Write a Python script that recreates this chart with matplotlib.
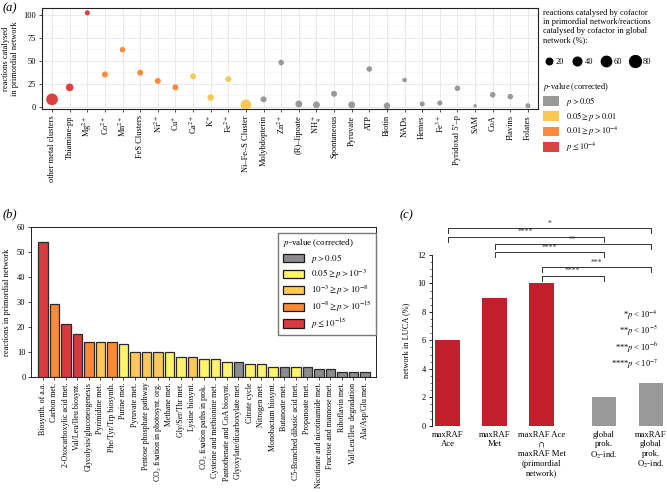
import numpy as np
import matplotlib
matplotlib.use("Agg")
import matplotlib.pyplot as plt
from matplotlib.lines import Line2D
from matplotlib.patches import Patch
from matplotlib.ticker import AutoMinorLocator, MultipleLocator

plt.rcParams['font.family'] = ['Liberation Serif', 'DejaVu Serif']
plt.rcParams['mathtext.fontset'] = 'stix'
plt.rcParams['font.size'] = 6

# ---------------- data (a): cofactors ----------------
cofactors = ["other metal clusters", "Thiamine-pp", "Mg$^{2+}$", "Co$^{2+}$", "Mn$^{2+}$",
             "FeS Clusters", "Ni$^{2+}$", "Cu$^{+}$", "Ca$^{2+}$", "K$^{+}$", "Fe$^{2+}$",
             "Ni\u2013Fe\u2013S Cluster", "Molybdopterin", "Zn$^{2+}$", "(R)\u2013lipoate",
             "NH$_4^+$", "Spontaneous", "Pyruvate", "ATP", "Biotin", "NADs", "Hemes",
             "Fe$^{3+}$", "Pyridoxal 5\u2032\u2013p", "SAM", "CoA", "Flavins", "Folates"]
cof_reactions = [8, 21, 102, 35, 62, 37, 28, 21, 33, 10, 30, 2, 8, 48, 3, 2, 14, 2,
                 41, 1, 29, 3, 4, 20, 1, 13, 11, 1]
cof_percent = [78, 30, 10, 16, 13, 16, 16, 16, 16, 20, 16, 65, 16, 13, 23, 23, 16, 23,
               13, 20, 7, 10, 10, 13, 1.5, 13, 13, 10]
cof_sig = [3, 3, 3, 2, 2, 2, 2, 2, 1, 1, 1, 1, 0, 0, 0, 0, 0, 0, 0, 0, 0, 0, 0, 0, 0, 0, 0, 0]
size_levels = [20, 40, 60, 80]
a_colors = ["#999999", "#fdc753", "#f98c3c", "#dd4040"]
a_sig_labels = [r"$p > 0.05$", r"$0.05 \geq p > 0.01$", r"$0.01 \geq p > 10^{-4}$",
                r"$p \leq 10^{-4}$"]

# ---------------- data (b): pathways ----------------
pathways = ["Biosynth. of a.a.", "Carbon met.", "2-Oxocarboxylic acid met.",
            "Val/Leu/Ileu biosynt.", "Glycolysis/gluconeogenesis", "Pyrimidine met.",
            "Phe/Tyr/Trp biosynth.", "Purine met.", "Pyruvate met.", "Pentose phosphate pathway",
            "CO$_2$ fixation in photosynt. org.", "Methane met.", "Gly/Ser/Thr met.",
            "Lysine biosynt.", "CO$_2$ fixation paths in prok.", "Cysteine and methionine met.",
            "Pantothenate and CoA biosynt.", "Glyoxylate/dicarboxylate met.", "Citrate cycle",
            "Nitrogen met.", "Monobactam biosynt.", "Butanoate met.", "C5-Branched dibasic acid met.",
            "Propanoate met.", "Nicotinate and nicotinamide met.", "Fructose and mannose met.",
            "Riboflavin met.", "Val/Leu/Ileu  degradation", "Ala/Asp/Glu met."]
path_reactions = [54, 29, 21, 17, 14, 14, 14, 13, 10, 10, 10, 10, 8, 8, 7, 7, 6, 6, 5, 5,
                  4, 4, 4, 4, 3, 3, 2, 2, 2]
path_sig = [4, 3, 4, 4, 3, 2, 3, 1, 2, 2, 2, 1, 1, 2, 1, 1, 1, 0, 1, 1, 1, 0, 1, 0, 0, 0, 0, 0, 0]
b_colors = ["#8c8c8c", "#fff36e", "#fdc75a", "#f88a38", "#d9393f"]
b_sig_labels = [r"$p > 0.05$", r"$0.05 \geq p > 10^{-3}$", r"$10^{-3} \geq p > 10^{-8}$",
                r"$10^{-8} \geq p > 10^{-15}$", r"$p \leq 10^{-15}$"]

# ---------------- data (c): LUCA ----------------
networks = ["maxRAF\nAce", "maxRAF\nMet", "maxRAF Ace\n$\\cap$\nmaxRAF Met\n(primordial\nnetwork)",
            "global\nprok.\nO$_2$-ind.", "maxRAF\nglobal\nprok.\nO$_2$-ind."]
luca_percent = [6, 9, 10, 2, 3]
c_colors = ["#c01f2b", "#c01f2b", "#c01f2b", "#999999", "#999999"]
bracket_pairs = [(0, 4), (0, 3), (1, 4), (1, 3), (2, 4), (2, 3)]
bracket_stars = ["*", "****", "**", "****", "***", "****"]
bracket_levels = [13.92, 13.29, 12.78, 12.19, 11.14, 10.55]

W, H = 667, 493
fig = plt.figure(figsize=(W / 100, H / 100), dpi=100)


def box(l, t, r, b):
    return [l / W, 1 - b / H, (r - l) / W, (b - t) / H]


def dot_size(pct):
    return 0.85 * np.asarray(pct) + 5


# ================= panel (a) =================
ax = fig.add_axes(box(42, 8, 538, 109))
xa = np.arange(len(cofactors))
ax.scatter(xa, cof_reactions, s=dot_size(cof_percent), c=[a_colors[s] for s in cof_sig],
           linewidths=0, zorder=3)
ax.set_xlim(-0.57, len(cofactors) - 0.43)
ax.set_ylim(-2.5, 107.3)
ax.set_yticks([0, 25, 50, 75, 100])
ax.yaxis.set_minor_locator(MultipleLocator(12.5))
ax.set_xticks(xa)
ax.tick_params(which='major', length=2.5, width=0.6, color='#333333', pad=2, labelsize=6)
ax.tick_params(which='minor', length=0)
ax.set_xticklabels(cofactors, rotation=90, fontsize=6)
ax.grid(which='major', color='#e6e6e6', lw=0.6, zorder=0)
ax.grid(which='minor', axis='y', color='#f3f3f3', lw=0.4, zorder=0)
for sp in ax.spines.values():
    sp.set_color('#222222')
    sp.set_linewidth(0.8)
ax.set_ylabel("reactions catalysed\nin primordial network", fontsize=6, labelpad=3,
              linespacing=1.1)

size_handles = [Line2D([], [], ls='', marker='o', color='black',
                       markersize=np.sqrt(dot_size(v))) for v in size_levels]
fig.legend(size_handles, [str(v) for v in size_levels], ncol=4, frameon=False,
           loc='upper left', bbox_to_anchor=(541 / W, 1 - 7 / H),
           title="reactions catalysed by cofactor\nin primordial network/reactions\n"
                 "catalysed by cofactor in global\nnetwork (%):\n",
           title_fontsize=6, fontsize=6, alignment='left', columnspacing=0.9,
           handletextpad=0.15, handlelength=1.4, borderaxespad=0, borderpad=0.2)
col_handles = [Patch(facecolor=c, edgecolor='none') for c in a_colors]
fig.legend(col_handles, a_sig_labels, frameon=False, loc='upper left',
           bbox_to_anchor=(541 / W, 1 - 79 / H), title="$p$-value (corrected)",
           title_fontsize=6, fontsize=6, alignment='left', handlelength=2.0,
           handleheight=1.3, labelspacing=0.25, borderaxespad=0, borderpad=0.2)

# ================= panel (b) =================
axb = fig.add_axes(box(31, 226.7, 376, 377))
xb = np.arange(len(pathways))
axb.bar(xb, path_reactions, width=0.83, color=[b_colors[s] for s in path_sig],
        edgecolor='#2a2a2a', linewidth=0.9)
axb.set_xlim(-1.04, len(pathways) - 0.04)
axb.set_ylim(0, 60)
axb.set_yticks(np.arange(0, 61, 10))
axb.set_xticks(xb)
axb.tick_params(length=2, width=0.5, pad=2, labelsize=6)
axb.set_xticklabels(pathways, rotation=90, fontsize=5.65)
for sp in axb.spines.values():
    sp.set_linewidth(0.6)
axb.set_ylabel("reactions in primordial network", fontsize=6, labelpad=4)
b_handles = [Patch(facecolor=c, edgecolor='#1a1a1a', linewidth=0.9) for c in b_colors]
axb.legend(b_handles, b_sig_labels, loc='upper right', bbox_to_anchor=(1.0, 0.96),
           title="$p$-value (corrected)", title_fontsize=6.5, fontsize=6.5, alignment='left',
           fancybox=False, edgecolor='#777777', framealpha=1, handlelength=2.3,
           handleheight=1.1, labelspacing=0.3, borderaxespad=0, borderpad=0.5)

# ================= panel (c) =================
axc = fig.add_axes(box(432, 255, 667, 425.7))
xc = np.r_[np.arange(3), np.arange(2) + 3.33]
axc.bar(xc, luca_percent, width=0.52, color=c_colors)
axc.set_xlim(-0.33, 4.67)
axc.set_ylim(0, 12)
axc.set_yticks(np.arange(0, 13, 2))
axc.yaxis.set_minor_locator(AutoMinorLocator(4))
axc.set_xticks(xc)
axc.set_xticklabels(networks, fontsize=6.2, linespacing=1.2)
axc.tick_params(axis='x', length=0, pad=4)
axc.tick_params(axis='y', which='major', length=2.5, width=0.6, labelsize=6, pad=2)
axc.tick_params(axis='y', which='minor', length=1.3, width=0.4)
for s in ['top', 'right', 'bottom']:
    axc.spines[s].set_visible(False)
axc.spines['left'].set_linewidth(0.6)
axc.set_ylabel("network in LUCA (%)", fontsize=6, labelpad=5)

for (i, j), stars, lev in zip(bracket_pairs, bracket_stars, bracket_levels):
    axc.plot([xc[i], xc[i], xc[j], xc[j]], [lev - 0.35, lev, lev, lev - 0.35],
             color='#333333', lw=0.7, clip_on=False)
    axc.text((xc[i] + xc[j]) / 2, lev + 0.02, stars, ha='center', va='bottom',
             fontsize=5.5, color='#333333')

axc.text(4.47, 8.25, "*$p$ < 10$^{-4}$\n**$p$ < 10$^{-5}$\n***$p$ < 10$^{-6}$\n****$p$ < 10$^{-7}$",
         ha='right', va='top', fontsize=6, linespacing=1.25)

# panel letters
fig.text(3 / W, 1 - 8 / H, "(a)", fontsize=9, style='italic', va='center')
fig.text(3 / W, 1 - 214 / H, "(b)", fontsize=9, style='italic', va='center')
fig.text(400 / W, 1 - 215 / H, "(c)", fontsize=9, style='italic', va='center')

fig.savefig("out.png", dpi=100)
